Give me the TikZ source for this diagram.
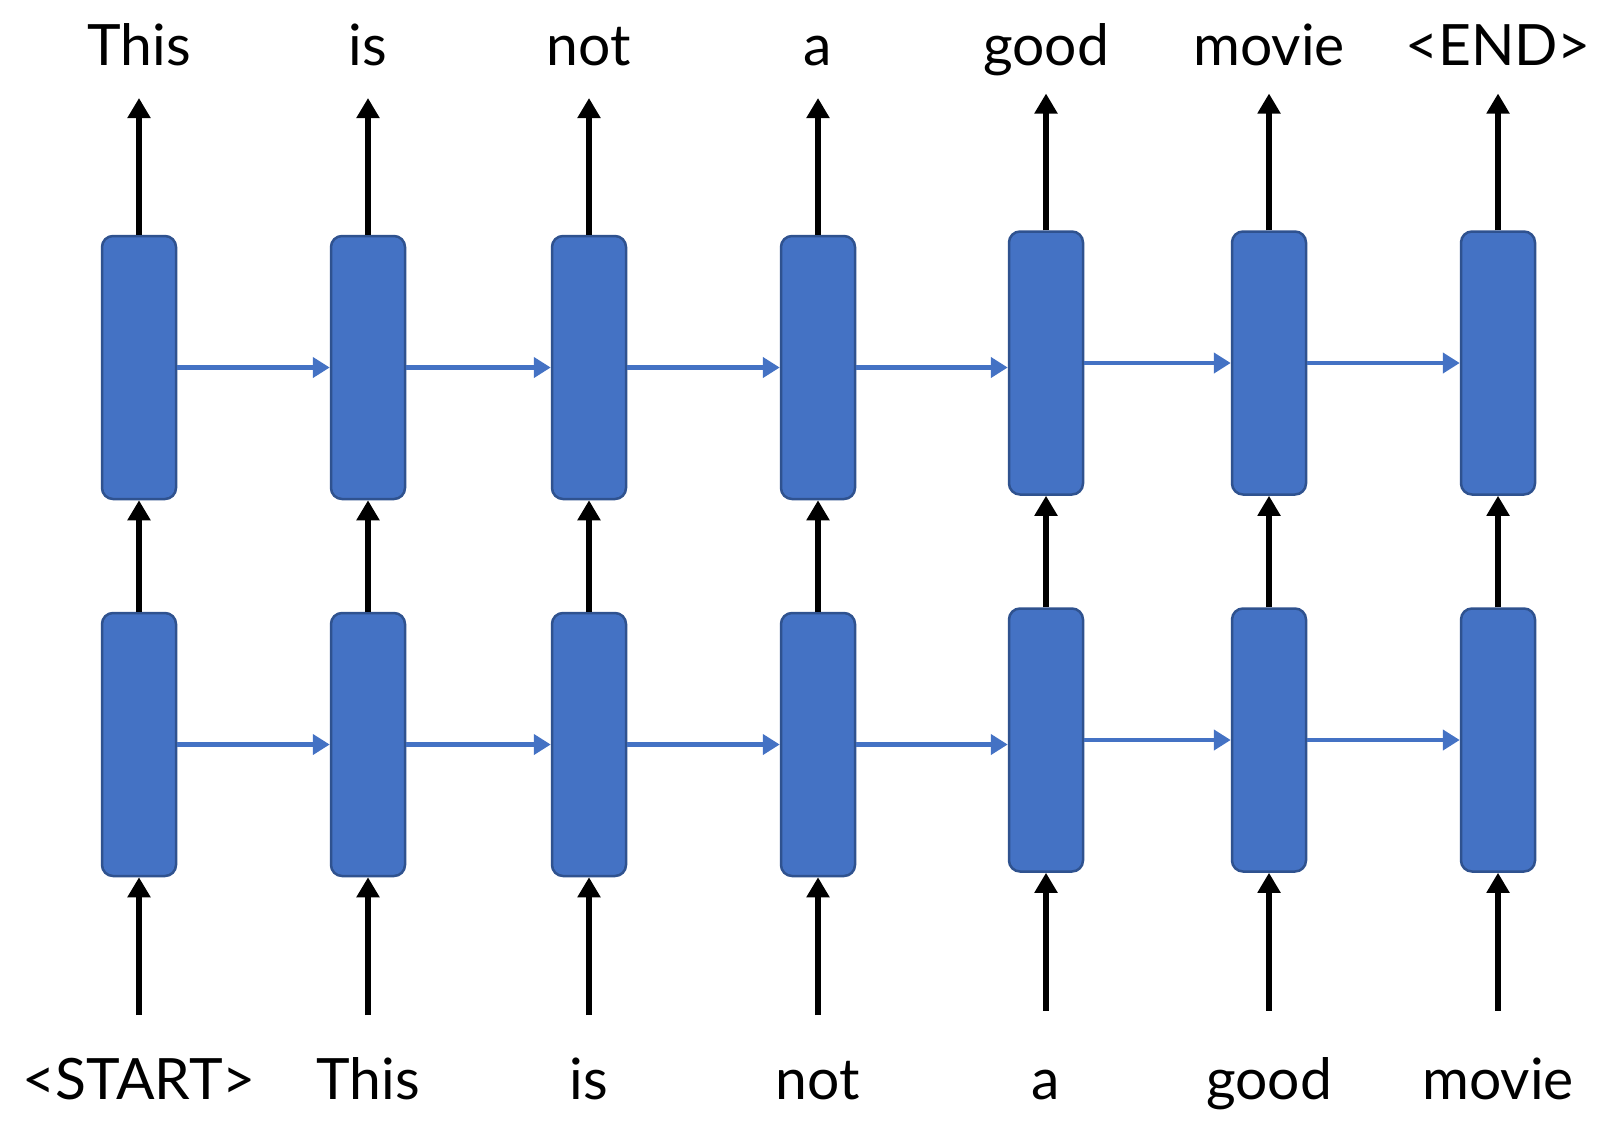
\documentclass[tikz,border=0pt]{standalone}
\usepackage{fontspec}
\setmainfont{Lato}
\usetikzlibrary{arrows.meta}
\definecolor{cellblue}{HTML}{4472C4}
\definecolor{celledge}{HTML}{2F528F}

\begin{document}
\begin{tikzpicture}[x=1pt, y=-1pt]
        \tikzset{cell/.style={draw=celledge, line width=2.5pt, fill=cellblue, rounded corners=11pt,
                minimum width=74pt, minimum height=263pt, inner sep=0pt},
            word/.style={font=\fontsize{57}{64}\selectfont, inner sep=0pt, anchor=base},
            up/.style={line width=6pt, -{Triangle[length=20pt,width=22pt]}},
            rec/.style={cellblue, line width=4.5pt, -{Triangle[length=17pt,width=20pt]}}}
        \useasboundingbox (0,0) rectangle (1624,1128);

        \foreach \i/\x/\s/\outw/\inw in {1/139/0/This/<START>, 2/368/0/is/This, 3/589/0/not/is,
                4/818/0/a/not, 5/1046/4.5/good/a, 6/1269/4.5/movie/good, 7/1498/4.5/<END>/movie}
        {
            \node[cell] (u\i) at (\x, 367.5-\s) {};
            \node[cell] (l\i) at (\x, 744.5-\s) {};
            \node[word] (t\i) at (\x, 65) {\outw};
            \node[word] (b\i) at (\x, 1099) {\inw};
            \coordinate (o\i) at (\x, 98-\s);
            \coordinate (e\i) at (\x, 1015-\s);
            \draw[up] (u\i) -- (o\i);
            \draw[up] (l\i) -- (u\i);
            \draw[up] (e\i) -- (l\i);
        }
        % recurrent connections
        \foreach \i [evaluate=\i as \j using int(\i+1)] in {1,...,6}
        {
            \draw[rec] (u\i.east) -- (u\j.west |- u\i.east);
            \draw[rec] (l\i.east) -- (l\j.west |- l\i.east);
        }
    \end{tikzpicture}
\end{document}
